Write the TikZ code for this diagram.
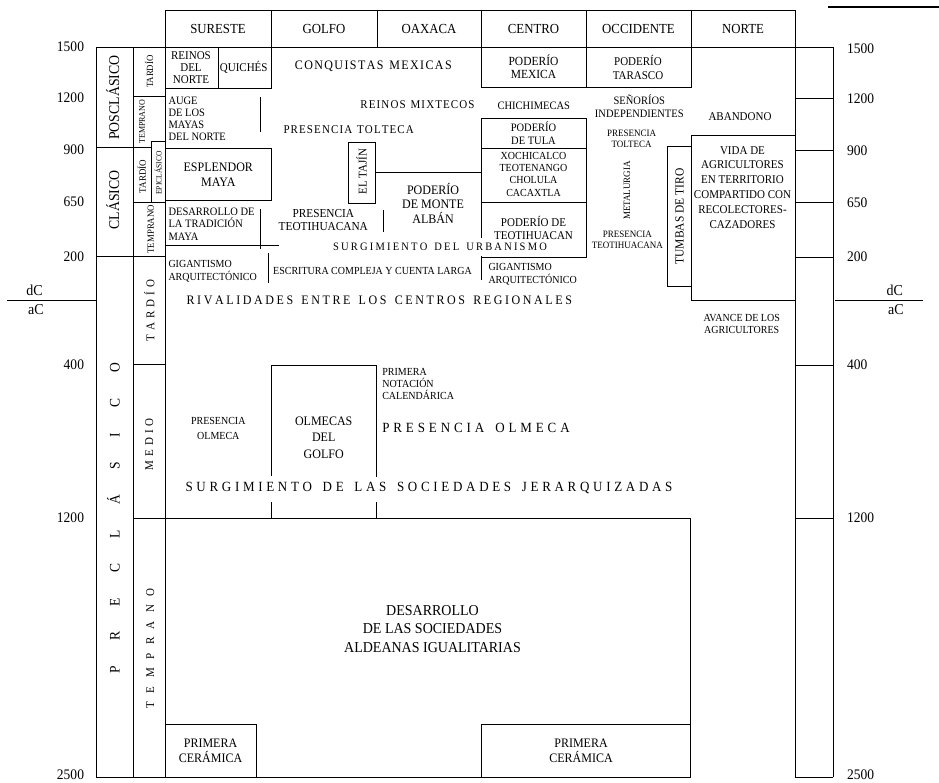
\documentclass[tikz,border=0pt]{standalone}
\usepackage{fontspec}
\setmainfont{Liberation Serif}[FakeStretch=0.926]
\makeatletter
\def\trkx#1#2{\def\trkx@a{#1}\trkx@l#2\relax}
\def\trkx@l#1{\ifx\relax#1\unkern\else#1\kern\trkx@a\expandafter\trkx@l\fi}
\makeatother
\newcommand\bxn[5]{\node[draw,minimum width={(#4)-(#2)},minimum height={(#5)-(#3)}] (#1) at ({((#2)+(#4))/2},{((#3)+(#5))/2}) {};}
\begin{document}
\begin{tikzpicture}[x=1pt,y=-1pt,line width=0.9pt,
  every node/.style={inner sep=0pt,outer sep=0pt},
  f/.style 2 args={font=\fontsize{\fpeval{#1*1.08}}{#2}\selectfont},
  cl/.style={align=center},
  ll/.style={align=left,anchor=west},
  hd/.style={draw,minimum height=37,f={12.8}{15}}]
\useasboundingbox (0,0) rectangle (939,783);

% ---------- header ----------
\node[hd,minimum width=106] (hSur) at (218,28.5) {SURESTE};
\node[hd,minimum width=106] (hGol) at (324,28.5) {GOLFO};
\node[hd,minimum width=104] (hOax) at (429,28.5) {OAXACA};
\node[hd,minimum width=105] (hCen) at (533.5,28.5) {CENTRO};
\node[hd,minimum width=105] (hOcc) at (638.5,28.5) {OCCIDENTE};
\node[hd,minimum width=104] (hNor) at (743,28.5) {NORTE};
\draw[line width=1.5pt] (828,7) -- (939,7);

% ---------- frame lines ----------
\draw (96,47) -- (833,47);
\draw (96,47) -- (96,777) (133,47) -- (133,777) (165,47) -- (165,777);
\draw (96,777) -- (690,777);
\draw (96,147) -- (151,147);
\draw (96,256) -- (165,256);
\draw (133,96.5) -- (165,96.5);
\bxn{epiBox}{151}{141}{165}{202}
\draw (133,202) -- (165,202);
\draw (133,364) -- (165,364);
\draw (133,518) -- (690,518) -- (690,777);
\draw (795,47) -- (795,777) (833,47) -- (833,777);
\foreach \y in {98,150,202,257,365,518,777} \draw (795,\y) -- (833,\y);
\draw (7,300) -- (96,300);
\draw (835,300) -- (923,300);

% ---------- axis labels ----------
\foreach \v/\y [count=\i] in {1500/47,1200/98,900/150,650/202,200/257,400/365,1200/518,2500/775}
  \node[anchor=east,f={13.5}{16}] (L\i) at (84,\y) {\v};
\foreach \v/\y [count=\i] in {1500/49,1200/98.5,900/150.5,650/202.5,200/257,400/365,1200/518,2500/775}
  \node[anchor=west,f={13.5}{16}] (R\i) at (847,\y) {\v};
\node[anchor=base,f={14}{16}] (dcL) at (34.5,296) {dC};
\node[anchor=base,f={14}{16}] (acL) at (36,315) {aC};
\node[anchor=base,f={14}{16}] (dcR) at (894.7,296) {dC};
\node[anchor=base,f={14}{16}] (acR) at (895.8,314.5) {aC};

% ---------- period columns ----------
\node[rotate=90,f={13.8}{16}] (posc) at (112.8,97.5) {POSCLÁSICO};
\node[rotate=90,f={13.8}{16}] (clas) at (112.8,200) {CLÁSICO};
\node[rotate=90,f={13.5}{16}] (precl) at (113.5,518.3) {\trkx{25.3pt}{PRECLÁSICO}};
\node[rotate=90,f={8.8}{10}] (tardPos) at (149,71.7) {TARDÍO};
\node[rotate=90,f={8}{10}] (tempPos) at (142,121.7) {TEMPRANO};
\node[rotate=90,f={9}{10}] (tardCl) at (141.7,176.5) {TARDÍO};
\node[rotate=90,f={7.5}{9}] (epi) at (158.2,173) {EPICLÁSICO};
\node[rotate=90,f={8.8}{10}] (tempCl) at (150.8,229.2) {TEMPRANO};
\node[rotate=90,f={11}{13}] (tardPre) at (149.3,310.8) {\trkx{4pt}{TARDÍO}};
\node[rotate=90,f={11}{13}] (medio) at (149.3,444.2) {\trkx{3.9pt}{MEDIO}};
\node[rotate=90,f={11}{13}] (tempPre) at (150.3,648.3) {\trkx{8.5pt}{TEMPRANO}};

% ---------- SURESTE ----------
\draw (218,47) -- (218,88.5);
\draw (165,88.5) -- (271,88.5) -- (271,47);
\node[cl,f={11}{12.3}] (reinos) at (191,67.7) {REINOS\\DEL\\NORTE};
\node[f={11}{13}] (quiches) at (243.7,67) {QUICHÉS};
\node[ll,f={10.5}{12}] (auge) at (168.5,118.4) {AUGE\\DE LOS\\MAYAS\\DEL NORTE};
\draw (260,97) -- (260,132);
\bxn{esplBox}{165}{148}{271}{200}
\node[cl,f={12}{15}] (espl) at (218.3,175) {ESPLENDOR\\MAYA};
\node[ll,f={10.5}{12.5}] (desTrad) at (168.5,224.2) {DESARROLLO DE\\LA TRADICIÓN\\MAYA};
\draw (260,209) -- (260,249);
\draw (165,245) -- (279,245);
\node[ll,f={10}{12.2}] (gigS) at (168.5,271.4) {GIGANTISMO\\ARQUITECTÓNICO};
\draw (268,253) -- (268,283);
\node[f={10}{12}] (escr) at (372.5,271) {ESCRITURA COMPLEJA Y CUENTA LARGA};

% ---------- GOLFO / OAXACA ----------
\node[f={12}{14}] (conq) at (373.3,66.2) {\trkx{1.4pt}{CONQUISTAS~MEXICAS}};
\node[f={11}{13}] (mixt) at (417.5,104.7) {\trkx{1.1pt}{REINOS~MIXTECOS}};
\node[f={11}{13}] (tolt) at (348.7,129.5) {\trkx{1.1pt}{PRESENCIA~TOLTECA}};
\bxn{tajinBox}{348}{142}{375}{203}
\node[rotate=90,f={11}{13}] (tajin) at (361.5,171.7) {EL TAJÍN};
\node[cl,f={12}{14.5}] (monte) at (433,203.3) {PODERÍO\\DE MONTE\\ALBÁN};
\node[cl,f={11.3}{13.4}] (teoG) at (323.3,220) {PRESENCIA\\TEOTIHUACANA};
\draw (383,210) -- (383,232);
\node[f={10.5}{12}] (urb) at (440,246.7) {\trkx{2.2pt}{SURGIMIENTO~DEL~URBANISMO}};
\node[f={12}{14}] (rival) at (379.3,300.3) {\trkx{2.6pt}{RIVALIDADES~ENTRE~LOS~CENTROS~REGIONALES}};

% ---------- CENTRO ----------
\bxn{mexBox}{481}{47}{586}{87}
\node[cl,f={11.5}{13}] (mex) at (533.5,66.8) {PODERÍO\\MEXICA};
\node[f={10.5}{12}] (chich) at (533.8,105.8) {CHICHIMECAS};
\bxn{tulaBox}{481}{118}{586}{148}
\node[cl,f={10.5}{13}] (tula) at (533.5,133) {PODERÍO\\DE TULA};
\bxn{xochBox}{481}{148}{586}{202}
\node[cl,f={10}{12.4}] (xoch) at (533.5,174.2) {XOCHICALCO\\TEOTENANGO\\CHOLULA\\CACAXTLA};
\draw (tajinBox.east |- 0,172) -- (xochBox.west |- 0,172);
\draw (481,202) -- (481,238);
\draw (481,257.5) -- (586,257.5) -- (586,202);
\node[cl,f={11}{13.3}] (teoC) at (533.5,228) {PODERÍO DE\\TEOTIHUACAN};
\draw (481,256) -- (481,280);
\node[ll,f={10}{12.8}] (gigC) at (488.5,274.4) {GIGANTISMO\\ARQUITECTÓNICO};

% ---------- OCCIDENTE ----------
\bxn{taraBox}{586}{47}{691}{87}
\node[cl,f={11}{14}] (tara) at (638,67) {PODERÍO\\TARASCO};
\node[cl,f={10.5}{12.5}] (senor) at (639.3,106) {SEÑORÍOS\\INDEPENDIENTES};
\node[cl,f={9}{11.3}] (toltO) at (631.5,139) {PRESENCIA\\TOLTECA};
\node[rotate=90,f={9}{11}] (metal) at (627,190.5) {METALURGIA};
\node[cl,f={9}{11.1}] (teoO) at (627.3,239.8) {PRESENCIA\\TEOTIHUACANA};
\bxn{tumbBox}{667}{146}{691}{286}
\node[rotate=90,f={11.5}{13}] (tumb) at (679.5,216.5) {TUMBAS DE TIRO};

% ---------- NORTE ----------
\node[f={11}{13}] (aband) at (740,117) {ABANDONO};
\bxn{vidaBox}{691}{135}{795}{300}
\node[cl,f={11}{14.8}] (vida) at (742.5,187.2) {VIDA DE\\AGRICULTORES\\EN TERRITORIO\\COMPARTIDO CON\\RECOLECTORES-\\CAZADORES};
\node[cl,f={10}{11.7}] (avance) at (741.7,324.2) {AVANCE DE LOS\\AGRICULTORES};

% ---------- PRECLÁSICO ----------
\node[cl,f={10}{15}] (olmS) at (218.3,428.3) {PRESENCIA\\OLMECA};
\draw (271,476) -- (271,365) -- (376,365) -- (376,477);
\draw (271,502) -- (271,518) (376,502) -- (376,518);
\node[cl,f={12}{16.3}] (olmG) at (323.7,437.6) {OLMECAS\\DEL\\GOLFO};
\node[ll,f={10}{12.3}] (notac) at (382.3,384) {PRIMERA\\NOTACIÓN\\CALENDÁRICA};
\node[f={13}{15}] (olmP) at (476,428.3) {\trkx{3.9pt}{PRESENCIA~OLMECA}};
\node[f={13}{15}] (jerar) at (429,488.3) {\trkx{3.7pt}{SURGIMIENTO~DE~LAS~SOCIEDADES~JERARQUIZADAS}};
\node[cl,f={14}{18.3}] (aldea) at (432.5,628.8) {DESARROLLO\\DE LAS SOCIEDADES\\ALDEANAS IGUALITARIAS};
\bxn{ceramBoxL}{165}{724}{256}{777}
\node[cl,f={12}{15}] (ceramL) at (210.5,750.8) {PRIMERA\\CERÁMICA};
\bxn{ceramBoxR}{481}{724}{690}{777}
\node[cl,f={12}{15}] (ceramR) at (581,750.8) {PRIMERA\\CERÁMICA};
\end{tikzpicture}
\end{document}
